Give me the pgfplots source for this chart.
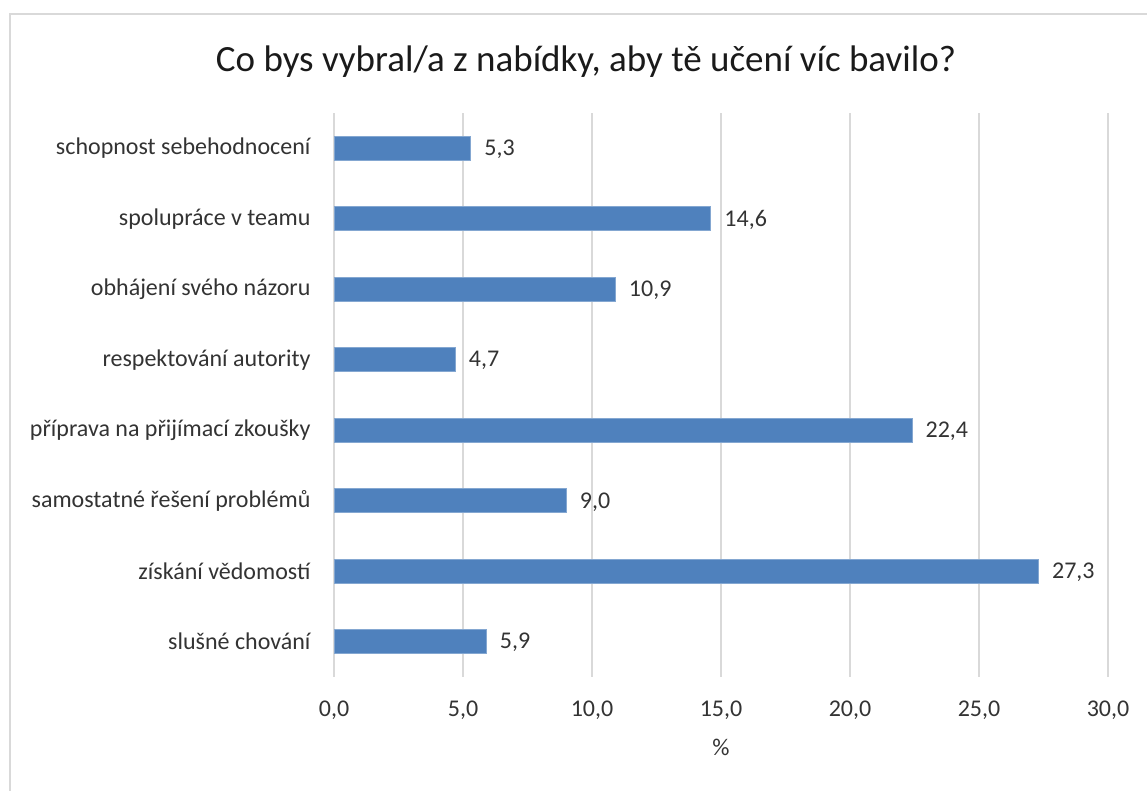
\documentclass[border=0pt]{standalone}
\usepackage{fontspec}
\setmainfont{Carlito}
\usepackage{pgfplots}
\pgfplotsset{compat=1.18}
\definecolor{barblue}{HTML}{4F81BD}
\definecolor{gridgray}{HTML}{D9D9D9}
\definecolor{txt}{HTML}{1A1A1A}
\definecolor{lbl}{HTML}{333333}
\begin{document}
\begin{tikzpicture}[x=1pt,y=1pt]
\path[use as bounding box] (0,0) rectangle (1147,791);
\draw[gridgray, line width=2pt] (10,-20) -- (10,777) -- (1170,777);
\node[txt, font=\fontsize{37}{44}\selectfont] at (586,729) {Co bys vybral/a z nabídky, aby tě učení víc bavilo?};
\begin{axis}[
  at={(334pt,114pt)}, anchor=south west,
  width=774pt, height=564pt, scale only axis,
  xbar, bar width=24pt,
  xmin=0, xmax=30, ymin=-0.5, ymax=7.5,
  xtick={0,5,...,30},
  ytick={0,...,7},
  yticklabels={slušné chování, získání vědomostí, samostatné řešení problémů, příprava na přijímací zkoušky, respektování autority, obhájení svého názoru, spolupráce v teamu, schopnost sebehodnocení},
  axis line style={draw=none},
  major tick length=0pt,
  xmajorgrids, grid style={gridgray, line width=1.6pt},
  /pgf/number format/assume math mode=true,
  /pgf/number format/.cd, use comma, fixed, fixed zerofill, precision=1, /pgfplots/.cd,
  ticklabel style={lbl, font=\fontsize{24}{28}\selectfont},
  xticklabel style={yshift=-20pt},
  yticklabel style={xshift=-20pt},
  xlabel={\%}, xlabel style={lbl, font=\fontsize{24}{28}\selectfont, yshift=-13pt},
  nodes near coords,
  nodes near coords style={lbl, font=\fontsize{24}{28}\selectfont, anchor=west, xshift=10pt, yshift=-1pt,
    /pgf/number format/.cd, use comma, fixed, fixed zerofill, precision=1},
  clip=false,
]
\addplot[fill=barblue, draw=barblue!70!white, line width=0.8pt] coordinates {
  (5.9,0) (27.3,1) (9.0,2) (22.4,3) (4.7,4) (10.9,5) (14.6,6) (5.3,7)
};
\end{axis}
\end{tikzpicture}
\end{document}
